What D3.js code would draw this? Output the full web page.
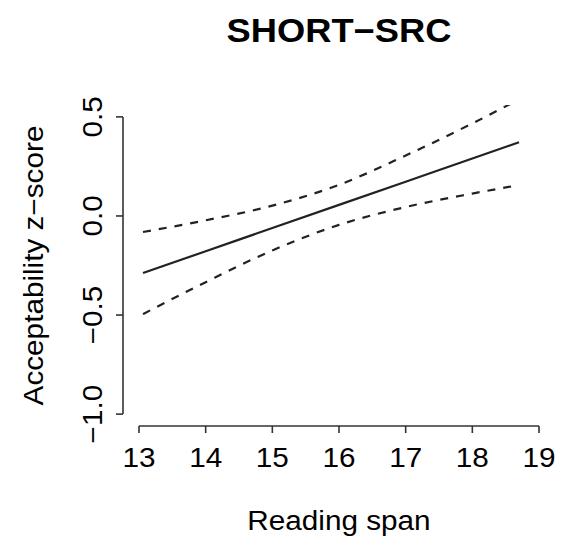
<!DOCTYPE html>
<html>
<head>
<meta charset="utf-8">
<script src="https://cdn.jsdelivr.net/npm/d3@7"></script>
<style>
  html, body { margin: 0; padding: 0; background: #fff; }
  svg text { font-family: "Liberation Sans", Arial, Helvetica, sans-serif; fill: #000; }
</style>
</head>
<body>
<svg id="chart" width="572" height="539"></svg>
<script>
// Reading span vs. acceptability: fitted line with confidence band
const spanX  = [13.06, 14, 15, 16, 17, 18, 18.7];
const fitZ   = [-0.288, -0.178, -0.061, 0.056, 0.173, 0.290, 0.372];
const upperZ = [-0.081, -0.022, 0.052, 0.157, 0.305, 0.467, 0.588];
const lowerZ = [-0.495, -0.334, -0.174, -0.045, 0.045, 0.113, 0.156];

const xTicks = [13, 14, 15, 16, 17, 18, 19];
const yTicks = [-1.0, -0.5, 0.0, 0.5];

const titleText = "SHORT\u2212SRC";
const xLabel = "Reading span";
const yLabel = "Acceptability z\u2212score";

const svg = d3.select("#chart");

// plotting region (axis limits padded by 4% on each side)
const xDomain = [13, 19], yDomain = [-1.0, 0.5];
const padX = (xDomain[1] - xDomain[0]) * 0.04;
const padY = (yDomain[1] - yDomain[0]) * 0.04;
const x = d3.scaleLinear().domain([xDomain[0] - padX, xDomain[1] + padX]).range([123, 555]);
const y = d3.scaleLinear().domain([yDomain[0] - padY, yDomain[1] + padY]).range([426, 105]);

const fmtY = d => d3.format(".1f")(d).replace("-", "\u2212");

// x axis
const gx = svg.append("g").attr("transform", `translate(0,${y.range()[0]})`);
gx.append("line")
  .attr("x1", x(xTicks[0])).attr("x2", x(xTicks[xTicks.length - 1]))
  .attr("stroke", "#333").attr("stroke-width", 1.6);
gx.selectAll("line.tick").data(xTicks).join("line")
  .attr("class", "tick")
  .attr("x1", d => x(d)).attr("x2", d => x(d))
  .attr("y1", 0).attr("y2", 7)
  .attr("stroke", "#333").attr("stroke-width", 1.6);
gx.selectAll("text").data(xTicks).join("text")
  .attr("x", d => x(d)).attr("y", 41)
  .attr("text-anchor", "middle")
  .style("font-size", "27px")
  .text(d => d);

// y axis
const gy = svg.append("g").attr("transform", `translate(${x.range()[0]},0)`);
gy.append("line")
  .attr("y1", y(yTicks[0])).attr("y2", y(yTicks[yTicks.length - 1]))
  .attr("stroke", "#333").attr("stroke-width", 1.6);
gy.selectAll("line.tick").data(yTicks).join("line")
  .attr("class", "tick")
  .attr("y1", d => y(d)).attr("y2", d => y(d))
  .attr("x1", 0).attr("x2", -7)
  .attr("stroke", "#333").attr("stroke-width", 1.6);
gy.selectAll("text").data(yTicks).join("text")
  .attr("transform", d => `translate(-21,${y(d)}) rotate(-90)`)
  .attr("text-anchor", "middle")
  .style("font-size", "27px")
  .text(fmtY);

// clip lines to the plotting region
svg.append("clipPath").attr("id", "plot-clip")
  .append("rect")
  .attr("x", x.range()[0]).attr("y", y.range()[1])
  .attr("width", x.range()[1] - x.range()[0])
  .attr("height", y.range()[0] - y.range()[1]);

const plot = svg.append("g").attr("clip-path", "url(#plot-clip)");

const lineOf = vals => d3.line()
  .x((d, i) => x(spanX[i]))
  .y(d => y(d))
  .curve(d3.curveMonotoneX)(vals);

plot.append("path").attr("d", lineOf(upperZ))
  .attr("fill", "none").attr("stroke", "#222").attr("stroke-width", 2.2)
  .attr("stroke-dasharray", "8,8");
plot.append("path").attr("d", lineOf(lowerZ))
  .attr("fill", "none").attr("stroke", "#222").attr("stroke-width", 2.2)
  .attr("stroke-dasharray", "8,8");
plot.append("path").attr("d", lineOf(fitZ))
  .attr("fill", "none").attr("stroke", "#222").attr("stroke-width", 2.2);

// titles
const cx = (x.range()[0] + x.range()[1]) / 2;
const cy = (y.range()[0] + y.range()[1]) / 2;
svg.append("text")
  .attr("x", cx).attr("y", 42)
  .attr("text-anchor", "middle")
  .style("font-size", "33px").style("font-weight", "bold")
  .text(titleText);
svg.append("text")
  .attr("x", cx).attr("y", 530)
  .attr("text-anchor", "middle")
  .style("font-size", "27px")
  .text(xLabel);
svg.append("text")
  .attr("transform", `translate(43,${cy}) rotate(-90)`)
  .attr("text-anchor", "middle")
  .style("font-size", "27px")
  .text(yLabel);

// the lettering is set slightly wide
svg.selectAll("text").each(function () {
  const len = this.getComputedTextLength();
  d3.select(this).attr("textLength", len * 1.1).attr("lengthAdjust", "spacingAndGlyphs");
});
</script>
</body>
</html>
